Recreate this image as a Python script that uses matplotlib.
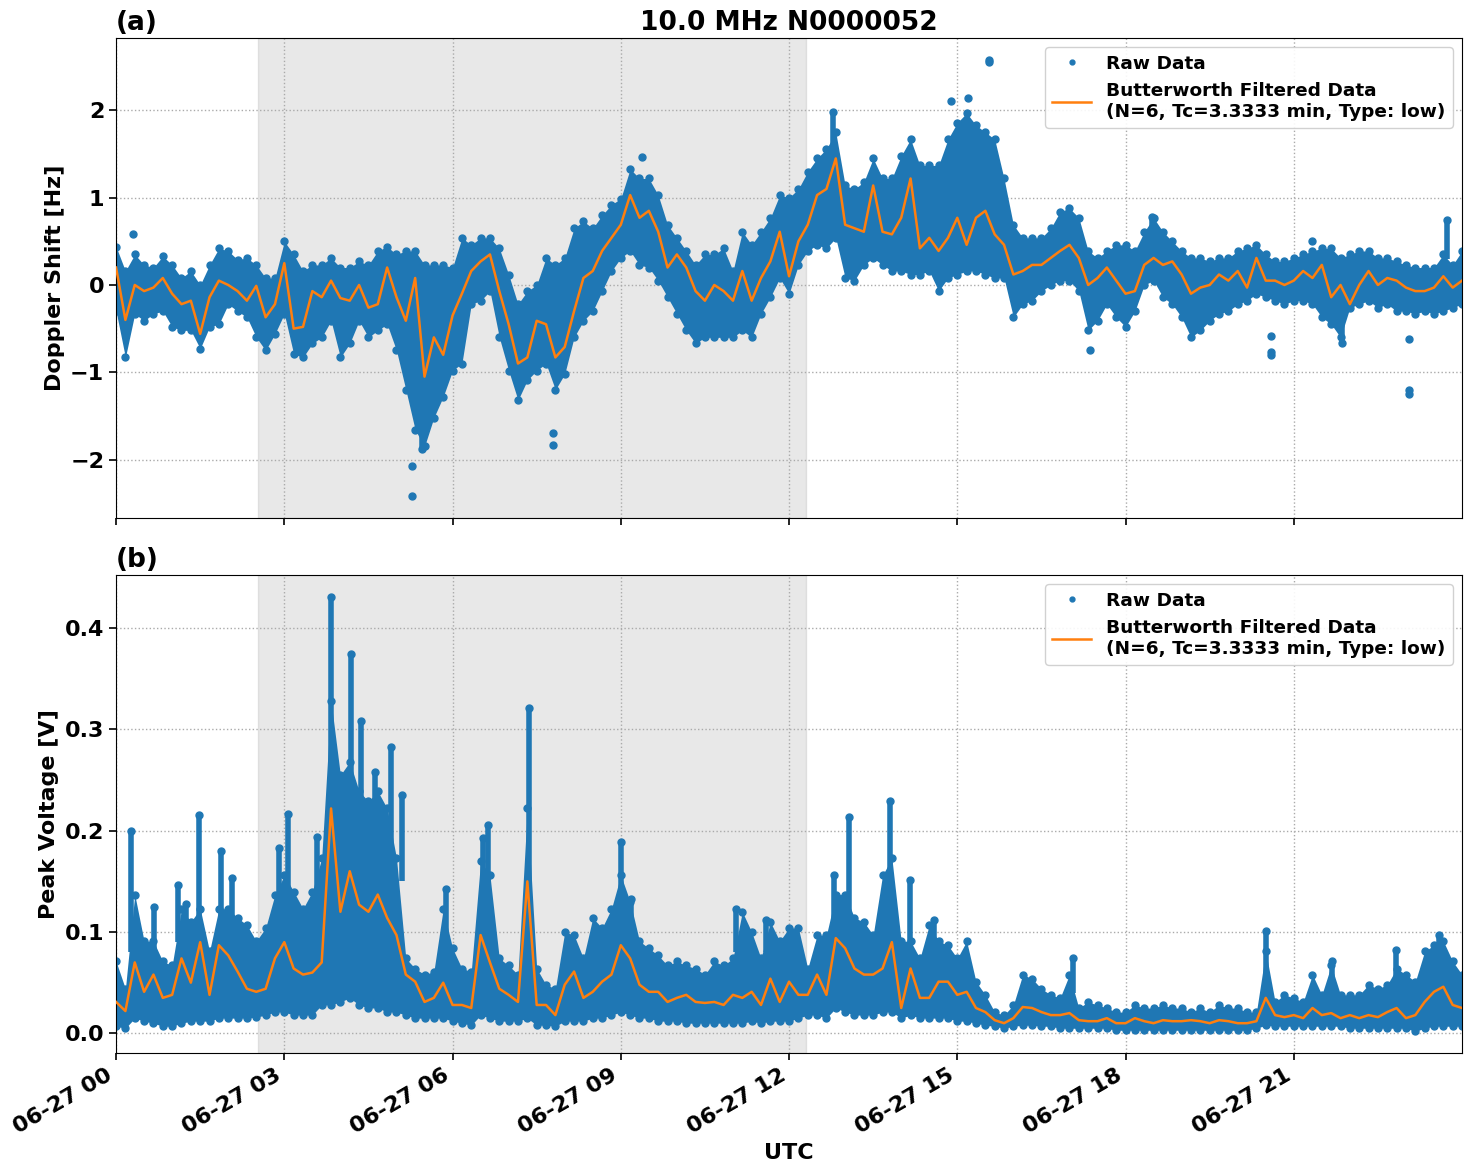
import numpy as np
import matplotlib
matplotlib.use("Agg")
import matplotlib.pyplot as plt
import matplotlib.dates as mdates

# ---------------- data (10-minute samples, 00:00 .. 24:00 UTC, 2024-06-27) ----------------
dop_filt = [0.2, -0.4, 0.0, -0.07, -0.03, 0.08,
            -0.1, -0.22, -0.18, -0.56, -0.14, 0.05,
            0.0, -0.07, -0.18, -0.01, -0.37, -0.22,
            0.25, -0.5, -0.48, -0.07, -0.14, 0.05,
            -0.15, -0.18, 0.0, -0.26, -0.22, 0.2,
            -0.14, -0.41, 0.08, -1.05, -0.6, -0.8,
            -0.35, -0.1, 0.16, 0.27, 0.35, -0.07,
            -0.45, -0.9, -0.83, -0.41, -0.45, -0.83,
            -0.71, -0.3, 0.08, 0.16, 0.39, 0.54,
            0.69, 1.03, 0.77, 0.85, 0.61, 0.2,
            0.35, 0.2, -0.07, -0.18, 0.0, -0.07,
            -0.18, 0.16, -0.18, 0.08, 0.27, 0.61,
            0.1, 0.5, 0.69, 1.03, 1.1, 1.45,
            0.69, 0.65, 0.61, 1.14, 0.61, 0.58,
            0.77, 1.22, 0.42, 0.54, 0.39, 0.54,
            0.77, 0.46, 0.77, 0.85, 0.58, 0.46,
            0.12, 0.16, 0.23, 0.23, 0.31, 0.39,
            0.46, 0.31, 0.0, 0.08, 0.2, 0.05,
            -0.1, -0.07, 0.23, 0.31, 0.23, 0.27,
            0.12, -0.1, -0.03, 0.0, 0.12, 0.05,
            0.16, -0.03, 0.31, 0.05, 0.05, 0.0,
            0.05, 0.16, 0.08, 0.23, -0.14, 0.0,
            -0.22, 0.0, 0.16, 0.0, 0.08, 0.05,
            -0.03, -0.07, -0.07, -0.03, 0.1, -0.03,
            0.05]
dop_hi = [0.44, 0.16, 0.35, 0.23, 0.2, 0.33,
          0.23, 0.08, 0.16, 0.0, 0.23, 0.42,
          0.39, 0.29, 0.31, 0.23, 0.08, 0.08,
          0.5, 0.35, 0.16, 0.23, 0.23, 0.31,
          0.2, 0.2, 0.27, 0.23, 0.39, 0.44,
          0.35, 0.39, 0.39, 0.23, 0.23, 0.23,
          0.2, 0.54, 0.46, 0.54, 0.54, 0.42,
          0.12, -0.22, -0.07, 0.0, 0.31, 0.23,
          0.31, 0.65, 0.73, 0.65, 0.8, 0.92,
          0.99, 1.33, 1.22, 1.22, 1.03, 0.69,
          0.54, 0.39, 0.23, 0.35, 0.35, 0.42,
          0.16, 0.61, 0.46, 0.61, 0.77, 1.03,
          1.0, 1.1, 1.3, 1.45, 1.56, 1.75,
          1.14, 1.1, 1.18, 1.45, 1.22, 1.22,
          1.48, 1.67, 1.37, 1.37, 1.37, 1.67,
          1.86, 1.97, 1.83, 1.75, 1.67, 1.22,
          0.69, 0.54, 0.54, 0.54, 0.65, 0.84,
          0.88, 0.77, 0.39, 0.31, 0.39, 0.46,
          0.46, 0.39, 0.61, 0.77, 0.61, 0.5,
          0.39, 0.31, 0.31, 0.27, 0.31, 0.31,
          0.39, 0.42, 0.46, 0.35, 0.27, 0.27,
          0.31, 0.35, 0.39, 0.42, 0.42, 0.31,
          0.35, 0.39, 0.39, 0.31, 0.31, 0.27,
          0.23, 0.2, 0.2, 0.2, 0.35, 0.23,
          0.39]
dop_lo = [-0.3, -0.83, -0.33, -0.41, -0.33, -0.3,
          -0.48, -0.52, -0.52, -0.73, -0.48, -0.45,
          -0.22, -0.3, -0.37, -0.6, -0.75, -0.56,
          -0.33, -0.79, -0.83, -0.67, -0.6, -0.41,
          -0.83, -0.67, -0.41, -0.6, -0.52, -0.45,
          -0.75, -1.2, -1.66, -1.85, -1.52, -1.28,
          -0.98, -0.9, -0.22, -0.18, -0.07, -0.6,
          -0.98, -1.32, -1.09, -0.98, -0.9, -1.2,
          -1.02, -0.6, -0.41, -0.3, -0.07, 0.16,
          0.31, 0.39, 0.23, 0.2, 0.05, -0.14,
          -0.33, -0.52, -0.67, -0.6, -0.6, -0.6,
          -0.6, -0.52, -0.6, -0.33, -0.14, 0.08,
          -0.1, 0.23, 0.39, 0.46, 0.42, 0.54,
          0.08, 0.05, 0.23, 0.31, 0.23, 0.16,
          0.16, 0.12, 0.12, 0.16, -0.07, 0.08,
          0.12, 0.16, 0.16, 0.12, 0.08, 0.08,
          -0.37, -0.22, -0.18, -0.07, 0.0, 0.05,
          0.05, -0.07, -0.52, -0.41, -0.22, -0.37,
          -0.48, -0.3, 0.0, 0.05, -0.14, -0.22,
          -0.37, -0.6, -0.52, -0.41, -0.33, -0.3,
          -0.22, -0.18, -0.1, -0.14, -0.18, -0.22,
          -0.18, -0.18, -0.22, -0.37, -0.45, -0.6,
          -0.26, -0.22, -0.18, -0.26, -0.22, -0.3,
          -0.3, -0.33, -0.3, -0.33, -0.3, -0.26,
          -0.22]
# isolated Doppler outliers (hour, value) and spike columns (hour, from, to)
dop_out_h = [0.3, 5.27, 5.27, 7.79, 7.79, 9.38, 14.89, 15.19, 15.57, 15.57,
             17.36, 20.6, 20.6, 20.6, 21.33, 23.06, 23.06, 23.06]
dop_out_v = [0.58, -2.07, -2.42, -1.7, -1.83, 1.47, 2.11, 2.14, 2.55, 2.58,
             -0.75, -0.58, -0.77, -0.8, 0.5, -0.62, -1.2, -1.25]
dop_spk_h = [12.78, 18.48, 21.86, 23.74, 5.45]
dop_spk_a = [1.5, 0.55, -0.4, 0.3, -1.5]
dop_spk_b = [1.98, 0.78, -0.67, 0.75, -1.88]

vol_filt = [0.031, 0.022, 0.07, 0.041, 0.058, 0.035,
            0.038, 0.074, 0.05, 0.09, 0.038, 0.087,
            0.077, 0.061, 0.044, 0.041, 0.044, 0.074,
            0.09, 0.064, 0.058, 0.06, 0.07, 0.222,
            0.12, 0.16, 0.127, 0.12, 0.137, 0.114,
            0.097, 0.058, 0.051, 0.031, 0.035, 0.05,
            0.028, 0.028, 0.025, 0.097, 0.07, 0.044,
            0.038, 0.031, 0.15, 0.028, 0.028, 0.018,
            0.048, 0.061, 0.035, 0.041, 0.051, 0.058,
            0.087, 0.074, 0.048, 0.041, 0.041, 0.031,
            0.035, 0.038, 0.031, 0.03, 0.031, 0.028,
            0.038, 0.035, 0.041, 0.028, 0.054, 0.031,
            0.051, 0.038, 0.038, 0.058, 0.038, 0.094,
            0.084, 0.064, 0.058, 0.058, 0.064, 0.09,
            0.025, 0.064, 0.035, 0.035, 0.051, 0.051,
            0.038, 0.041, 0.025, 0.021, 0.013, 0.01,
            0.015, 0.026, 0.025, 0.021, 0.018, 0.018,
            0.02, 0.013, 0.012, 0.012, 0.015, 0.01,
            0.01, 0.015, 0.012, 0.01, 0.013, 0.012,
            0.012, 0.013, 0.012, 0.01, 0.013, 0.012,
            0.01, 0.01, 0.012, 0.035, 0.018, 0.016,
            0.018, 0.015, 0.025, 0.018, 0.02, 0.015,
            0.018, 0.015, 0.018, 0.016, 0.021, 0.025,
            0.015, 0.018, 0.031, 0.041, 0.046, 0.028,
            0.025]
vol_hi = [0.071, 0.044, 0.137, 0.091, 0.091, 0.071,
          0.067, 0.123, 0.11, 0.123, 0.081, 0.123,
          0.123, 0.114, 0.107, 0.091, 0.104, 0.137,
          0.156, 0.14, 0.123, 0.14, 0.173, 0.328,
          0.255, 0.268, 0.239, 0.229, 0.239, 0.222,
          0.173, 0.074, 0.064, 0.058, 0.061, 0.123,
          0.084, 0.064, 0.061, 0.17, 0.156, 0.074,
          0.067, 0.058, 0.222, 0.064, 0.048, 0.044,
          0.1, 0.097, 0.074, 0.114, 0.104, 0.123,
          0.156, 0.13, 0.091, 0.084, 0.077, 0.067,
          0.071, 0.067, 0.064, 0.058, 0.071, 0.067,
          0.074, 0.12, 0.1, 0.074, 0.11, 0.091,
          0.104, 0.104, 0.064, 0.097, 0.097, 0.137,
          0.137, 0.114, 0.11, 0.097, 0.156, 0.173,
          0.091, 0.091, 0.074, 0.107, 0.091, 0.087,
          0.074, 0.091, 0.051, 0.038, 0.021, 0.018,
          0.028, 0.058, 0.054, 0.044, 0.038, 0.035,
          0.058, 0.025, 0.031, 0.028, 0.025, 0.021,
          0.021, 0.028, 0.025, 0.025, 0.028, 0.025,
          0.025, 0.021, 0.025, 0.021, 0.028, 0.025,
          0.025, 0.021, 0.021, 0.081, 0.031, 0.038,
          0.035, 0.031, 0.058, 0.038, 0.067, 0.038,
          0.038, 0.038, 0.048, 0.044, 0.048, 0.064,
          0.058, 0.051, 0.081, 0.087, 0.091, 0.071,
          0.058]
vol_lo = [0.007, 0.005, 0.015, 0.012, 0.01, 0.007,
          0.007, 0.01, 0.012, 0.012, 0.012, 0.015,
          0.015, 0.015, 0.015, 0.016, 0.018, 0.021,
          0.021, 0.018, 0.018, 0.018, 0.028, 0.028,
          0.031, 0.035, 0.028, 0.025, 0.025, 0.021,
          0.021, 0.018, 0.015, 0.015, 0.015, 0.015,
          0.012, 0.01, 0.008, 0.018, 0.015, 0.012,
          0.012, 0.012, 0.015, 0.008, 0.008, 0.007,
          0.012, 0.012, 0.012, 0.015, 0.015, 0.018,
          0.021, 0.018, 0.015, 0.015, 0.012, 0.012,
          0.012, 0.01, 0.01, 0.01, 0.01, 0.01,
          0.01, 0.01, 0.012, 0.01, 0.012, 0.012,
          0.012, 0.015, 0.018, 0.018, 0.015, 0.025,
          0.021, 0.018, 0.018, 0.018, 0.021, 0.021,
          0.015, 0.018, 0.015, 0.015, 0.015, 0.015,
          0.012, 0.012, 0.01, 0.008, 0.007, 0.005,
          0.007, 0.008, 0.008, 0.007, 0.007, 0.005,
          0.005, 0.005, 0.005, 0.005, 0.005, 0.003,
          0.003, 0.003, 0.003, 0.003, 0.003, 0.003,
          0.003, 0.003, 0.003, 0.003, 0.003, 0.003,
          0.003, 0.003, 0.005, 0.008, 0.007, 0.007,
          0.007, 0.007, 0.007, 0.007, 0.007, 0.007,
          0.005, 0.005, 0.005, 0.005, 0.005, 0.005,
          0.005, 0.002, 0.005, 0.007, 0.007, 0.007,
          0.007]
# Peak-voltage spike columns (hour, base, top)
vol_spk_h = [0.27, 0.67, 1.1, 1.25, 1.48, 1.88, 2.06, 2.9, 3.06, 3.59, 3.84, 4.19,
             4.37, 4.62, 4.9, 5.1, 5.89, 6.55, 6.63, 7.36, 9.01, 9.19, 11.06, 11.59,
             12.81, 13.07, 13.8, 14.16, 14.59, 17.07, 20.5, 21.69, 22.82, 23.59]
vol_spk_a = [0.08, 0.08, 0.09, 0.09, 0.09, 0.1, 0.1, 0.11, 0.12, 0.12, 0.2, 0.2,
             0.2, 0.2, 0.18, 0.15, 0.08, 0.12, 0.12, 0.15, 0.1, 0.1, 0.08, 0.08,
             0.1, 0.1, 0.12, 0.08, 0.08, 0.04, 0.05, 0.04, 0.05, 0.07]
vol_spk_b = [0.2, 0.125, 0.146, 0.128, 0.216, 0.18, 0.153, 0.183, 0.217, 0.194, 0.431, 0.374,
             0.308, 0.258, 0.283, 0.235, 0.142, 0.193, 0.206, 0.321, 0.189, 0.133, 0.123, 0.112,
             0.156, 0.214, 0.229, 0.151, 0.112, 0.074, 0.101, 0.071, 0.082, 0.097]

shade_start_h = 2.53
shade_end_h = 12.31
title = "10.0 MHz N0000052"
filt_label = "Butterworth Filtered Data\n(N=6, Tc=3.3333 min, Type: low)"

# ---------------- plotting ----------------
plt.rcParams['font.family'] = ['DejaVu Sans']
plt.rcParams['font.weight'] = 'bold'
plt.rcParams['axes.labelweight'] = 'bold'
plt.rcParams['axes.titleweight'] = 'bold'

t0 = np.datetime64('2024-06-27T00:00:00')
def hrs(h):
    return t0 + (np.asarray(h, dtype=float) * 3600).astype('int64').astype('timedelta64[s]')

times = t0 + np.arange(len(dop_filt)) * np.timedelta64(10, 'm')
blue = '#1f77b4'
orange = '#ff7f0e'

fig = plt.figure(figsize=(14.71, 11.72), dpi=100)
ax1 = fig.add_axes([0.0789, 0.558, 0.915, 0.4096])
ax2 = fig.add_axes([0.0789, 0.1015, 0.915, 0.4079], sharex=ax1)

def panel(ax, lo, hi, filt, spk_h, spk_a, spk_b, out_h=None, out_v=None):
    ax.axvspan(hrs(shade_start_h), hrs(shade_end_h), color='gray', alpha=0.18, zorder=0)
    ax.fill_between(times, lo, hi, color=blue, lw=0, zorder=2)
    ax.plot(times, hi, 'o', ms=5, color=blue, zorder=2, label='Raw Data')
    ax.plot(times, lo, 'o', ms=5, color=blue, zorder=2)
    ax.vlines(hrs(spk_h), spk_a, spk_b, color=blue, lw=4, zorder=2)
    ax.plot(hrs(spk_h), spk_b, 'o', ms=5, color=blue, zorder=2)
    if out_h is not None:
        ax.plot(hrs(out_h), out_v, 'o', ms=5, color=blue, zorder=2)
    ax.plot(times, filt, '-', color=orange, lw=1.8, zorder=3, label=filt_label)
    ax.grid(True, linestyle=':', color='#aaaaaa', lw=1)
    ax.set_axisbelow(True)
    ax.tick_params(labelsize=16, width=1.2, length=5)
    ax.legend(loc='upper right', prop={'weight': 'bold', 'size': 13.3},
              markerscale=0.7, handlelength=2.1,
              framealpha=0.9, edgecolor='#cccccc')

panel(ax1, dop_lo, dop_hi, dop_filt, dop_spk_h, dop_spk_a, dop_spk_b, dop_out_h, dop_out_v)
panel(ax2, vol_lo, vol_hi, vol_filt, vol_spk_h, vol_spk_a, vol_spk_b)

ax1.set_ylabel('Doppler Shift [Hz]', fontsize=16, fontweight='bold')
ax2.set_ylabel('Peak Voltage [V]', fontsize=16, fontweight='bold')
ax2.set_xlabel('UTC', fontsize=16, fontweight='bold')
ax1.set_title(title, fontsize=19, fontweight='bold')
ax1.set_title('(a)', loc='left', fontsize=19, fontweight='bold')
ax2.set_title('(b)', loc='left', fontsize=19, fontweight='bold')
ax1.set_yticks([-2, -1, 0, 1, 2])
ax1.set_yticklabels(['\u22122', '\u22121', '0', '1', '2'], fontweight='bold')
ax2.set_yticks([0.0, 0.1, 0.2, 0.3, 0.4])
ax2.set_yticklabels(['0.0', '0.1', '0.2', '0.3', '0.4'], fontweight='bold')

ax2.xaxis.set_major_locator(mdates.HourLocator(byhour=range(0, 24, 3)))
ax2.xaxis.set_major_formatter(mdates.DateFormatter('%m-%d %H'))
ax2.set_xlim(t0, t0 + np.timedelta64(86399, 's'))
plt.setp(ax1.get_xticklabels(), visible=False)
for lab in ax2.get_xticklabels():
    lab.set_rotation(30)
    lab.set_ha('right')
    lab.set_fontweight('bold')
    lab.set_fontsize(16)

fig.savefig('out.png', dpi=100)
